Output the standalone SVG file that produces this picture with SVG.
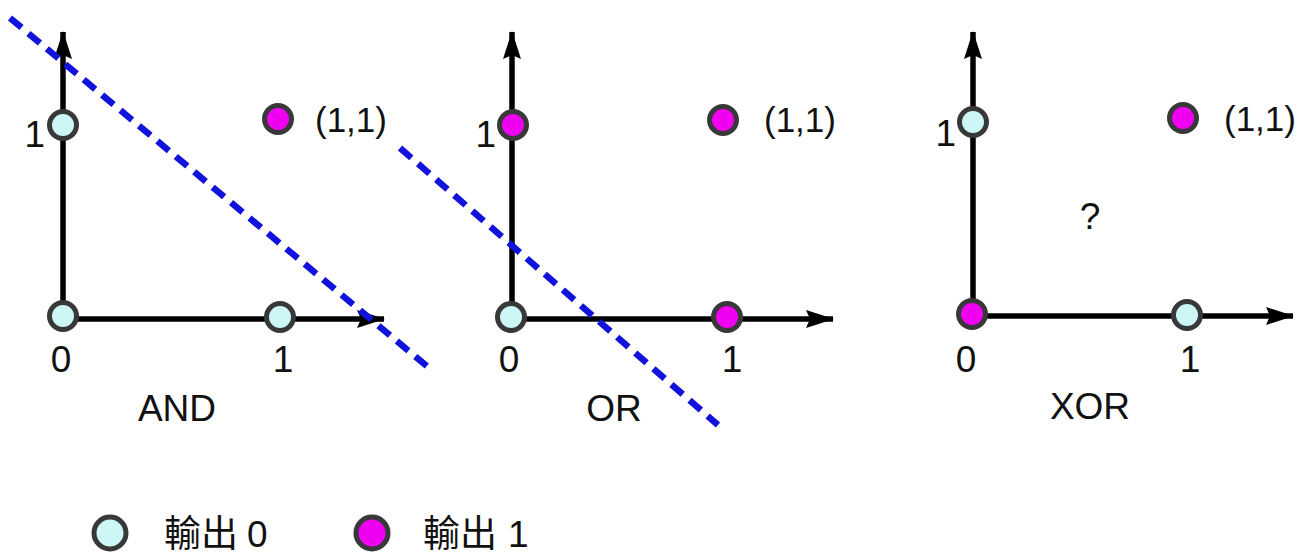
<svg xmlns="http://www.w3.org/2000/svg" width="1311" height="553" viewBox="0 0 1311 553">
<defs>
<style>
.t{font-family:"Liberation Sans",Arial,sans-serif;font-size:37px;fill:#111}
.c{text-anchor:middle}
.e{text-anchor:end}
.pt{font-size:35px}
.cj{font-family:"Liberation Sans","Noto Sans CJK TC",sans-serif;font-size:37px;fill:#111}
.o0{fill:#cdf7f7;stroke:#383838;stroke-width:5}
.o1{fill:#f000f0;stroke:#383838;stroke-width:5}
.ax{stroke:#000;stroke-width:5.5;fill:none}
.dl{stroke:#1212dd;stroke-width:6.5;stroke-dasharray:15 9;fill:none}
</style>
<marker id="ah" viewBox="0 0 28 20" refX="27" refY="10" markerWidth="28" markerHeight="20" markerUnits="userSpaceOnUse" orient="auto">
<path d="M28 10 L0 1 L4 10 L0 19 Z" fill="#000"/>
</marker>
</defs>
<rect width="1311" height="553" fill="#fff"/>
<g id="connectors">
<line class="ax" x1="63" y1="319" x2="63" y2="32" marker-end="url(#ah)"/>
<line class="ax" x1="63" y1="319" x2="384" y2="319" marker-end="url(#ah)"/>
<line class="ax" x1="512" y1="319" x2="512" y2="32" marker-end="url(#ah)"/>
<line class="ax" x1="512" y1="319" x2="833" y2="319" marker-end="url(#ah)"/>
<line class="ax" x1="973" y1="316" x2="973" y2="32" marker-end="url(#ah)"/>
<line class="ax" x1="973" y1="316" x2="1293" y2="316" marker-end="url(#ah)"/>
<line class="dl" x1="10" y1="18" x2="428" y2="367"/>
<line class="dl" x1="400" y1="148" x2="718" y2="425"/>
</g>
<g id="and-panel">
<circle class="o0" cx="63" cy="316" r="13.5"/>
<circle class="o0" cx="63" cy="125" r="13.5"/>
<circle class="o0" cx="280" cy="317" r="13.5"/>
<circle class="o1" cx="278" cy="119" r="13.5"/>
<text class="t e" x="45" y="147">1</text>
<text class="t c" x="61" y="372">0</text>
<text class="t c" x="283" y="372">1</text>
<text class="t pt" x="315" y="132">(1,1)</text>
<text class="t c" x="177" y="421">AND</text>
</g>
<g id="or-panel">
<circle class="o0" cx="511" cy="317" r="13.5"/>
<circle class="o1" cx="513" cy="125" r="13.5"/>
<circle class="o1" cx="727" cy="317" r="13.5"/>
<circle class="o1" cx="723" cy="120" r="13.5"/>
<text class="t e" x="496" y="147">1</text>
<text class="t c" x="509" y="372">0</text>
<text class="t c" x="732" y="372">1</text>
<text class="t pt" x="764" y="132">(1,1)</text>
<text class="t c" x="614" y="421">OR</text>
</g>
<g id="xor-panel">
<circle class="o1" cx="972" cy="314" r="13.5"/>
<circle class="o0" cx="973" cy="122" r="13.5"/>
<circle class="o0" cx="1187" cy="315" r="13.5"/>
<circle class="o1" cx="1183" cy="118" r="13.5"/>
<text class="t e" x="956" y="146">1</text>
<text class="t c" x="966" y="372">0</text>
<text class="t c" x="1190" y="372">1</text>
<text class="t pt" x="1224" y="131">(1,1)</text>
<text class="t c" x="1090" y="229">?</text>
<text class="t c" x="1090" y="419">XOR</text>
</g>
<g id="legend-0">
<circle class="o0" cx="110" cy="533" r="16"/>
<text class="cj" x="164" y="547">輸出 <tspan x="247">0</tspan></text>
</g>
<g id="legend-1">
<circle class="o1" cx="372" cy="533" r="16"/>
<text class="cj" x="423" y="547">輸出 <tspan x="508">1</tspan></text>
</g>
</svg>
